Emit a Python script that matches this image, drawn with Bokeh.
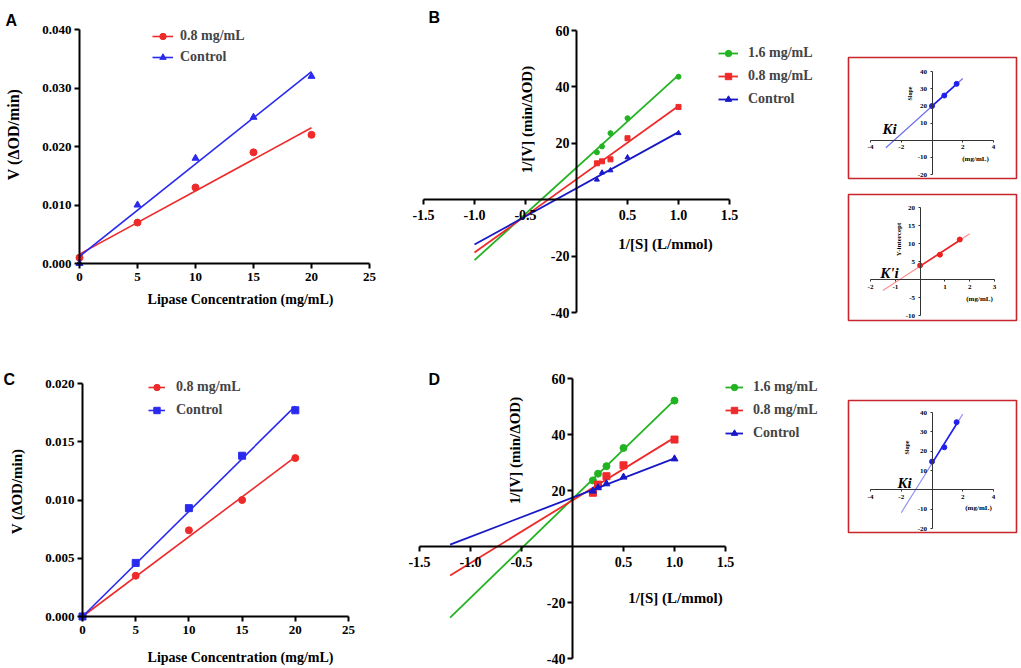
import numpy as np
from bokeh.plotting import figure
from bokeh.models import Range1d, FixedTicker, PrintfTickFormatter, Legend, LegendItem
from bokeh.layouts import row, column
from bokeh.embed import file_html
from bokeh.resources import INLINE

# ---------------- data ----------------
# Panel A : V vs lipase concentration
a_conc = [0, 5, 10, 15, 20]
a_inhib = [0.001, 0.007, 0.013, 0.019, 0.022]
a_control = [0.000, 0.010, 0.018, 0.025, 0.032]
a_xticks = [0, 5, 10, 15, 20, 25]
a_yticks = [0.0, 0.01, 0.02, 0.03, 0.04]

# Panel B : Lineweaver-Burk
b_inv_s = [0.2, 0.25, 0.333, 0.5, 1.0]
b_16 = [16.8, 18.9, 23.6, 28.9, 43.6]
b_08 = [12.9, 13.6, 14.3, 21.8, 32.9]
b_ctrl = [7.1, 9.6, 10.4, 15.0, 23.6]
lb_xticks = [-1.5, -1.0, -0.5, 0.5, 1.0, 1.5]
lb_yticks = [-40, -20, 20, 40, 60]

# Insets of B
bi_conc = [0, 0.8, 1.6]
bi_slope = [19.9, 26.0, 32.8]
bi_intercept = [3.9, 6.9, 11.1]
ins_xticks = [-4, -2, 2, 4]
ins_yticks = [-20, -10, 10, 20, 30, 40]
ins2_xticks = [-2, -1, 1, 2, 3]
ins2_yticks = [-10, -5, 5, 10, 15, 20]

# Panel C
c_conc = [0, 5, 10, 15, 20]
c_inhib = [0.0, 0.0035, 0.0074, 0.0100, 0.0136]
c_control = [0.0, 0.0046, 0.0093, 0.0138, 0.0177]
c_yticks = [0.0, 0.005, 0.010, 0.015, 0.020]

# Panel D
d_inv_s = [0.2, 0.25, 0.333, 0.5, 1.0]
d_16 = [23.6, 26.0, 28.7, 35.2, 52.1]
d_08 = [19.2, 22.1, 25.1, 29.0, 38.2]
d_ctrl = [19.8, 21.0, 22.4, 24.8, 31.3]
di_conc = [0, 0.8, 1.6]
di_slope = [14.6, 22.0, 35.0]

# ---------------- styles ----------------
RED = "#ef2a2a"
BLUE = "#2a2aef"
GREEN = "#22b322"
NAVY = "#1818c8"
SERIF = "Liberation Serif"
SANS = "Liberation Sans"


def make_fig(canvas, frame, xcal, ycal, outline=None):
    cx, cy, cw, ch = canvas
    fx0, fy0, fx1, fy1 = frame
    (xp0, xv0), (xp1, xv1) = xcal
    (yp0, yv0), (yp1, yv1) = ycal
    kx = (xv1 - xv0) / (xp1 - xp0)
    ky = (yv1 - yv0) / (yp1 - yp0)

    def X(px):
        return xv0 + (px - xp0) * kx

    def Y(py):
        return yv0 + (py - yp0) * ky

    p = figure(width=cw, height=ch,
               x_range=Range1d(X(fx0), X(fx1)), y_range=Range1d(Y(fy1), Y(fy0)),
               output_backend="svg", toolbar_location=None,
               min_border_left=fx0 - cx, min_border_right=cx + cw - fx1,
               min_border_top=fy0 - cy, min_border_bottom=cy + ch - fy1,
               background_fill_color="white", border_fill_color="white")
    p.title.visible = False
    p.xgrid.visible = False
    p.ygrid.visible = False
    if outline:
        p.outline_line_color = outline
        p.outline_line_width = 1.6
    else:
        p.outline_line_color = None
    return p, X, Y


def setup_axes(p, xb, yb, xt, yt, xfmt, yfmt, fs, lw, tick, xstand, ystand, color="black"):
    xa, ya = p.xaxis[0], p.yaxis[0]
    for ax in (xa, ya):
        ax.fixed_location = 0
        ax.axis_line_width = lw
        ax.axis_line_color = color
        ax.major_tick_line_width = lw
        ax.major_tick_line_color = color
        ax.major_tick_out = tick
        ax.major_tick_in = 0
        ax.minor_tick_out = 0
        ax.minor_tick_in = 0
        ax.major_label_text_font = SERIF
        ax.major_label_text_font_style = "bold"
        ax.major_label_text_font_size = fs
        ax.major_label_text_color = "black"
    xa.bounds = xb
    ya.bounds = yb
    xa.ticker = FixedTicker(ticks=xt, minor_ticks=[])
    ya.ticker = FixedTicker(ticks=yt, minor_ticks=[])
    xa.formatter = PrintfTickFormatter(format=xfmt)
    ya.formatter = PrintfTickFormatter(format=yfmt)
    xa.major_label_standoff = xstand
    ya.major_label_standoff = ystand


def label(p, X, Y, px, py, txt, size, font=SERIF, style="bold", angle=0.0,
          align="center", baseline="middle", color="black"):
    p.text(x=[X(px)], y=[Y(py)], text=[txt], angle=angle,
           text_font={"value": font}, text_font_style=style, text_font_size=size,
           text_align=align, text_baseline=baseline, text_color=color)


def add_legend(p, items, loc, glyph_width, standoff, spacing):
    leg = Legend(items=[LegendItem(label=t, renderers=r) for t, r in items],
                 location=loc, orientation="vertical", padding=0, margin=0, spacing=spacing,
                 glyph_width=glyph_width, glyph_height=16, label_height=16, label_standoff=standoff,
                 label_text_font=SERIF, label_text_font_style="bold", label_text_font_size="14px",
                 background_fill_alpha=0, border_line_color=None)
    p.add_layout(leg)


def linfit(x, y):
    k, b = np.polyfit(np.asarray(x, float), np.asarray(y, float), 1)
    return k, b


def line_pts(k, b, x0, x1):
    return [x0, x1], [k * x0 + b, k * x1 + b]


# ---------------- Panel A ----------------
pA, XA, YA = make_fig((0, 0, 400, 334), (0, 0, 400, 334), ((79, 0), (369, 25)), ((263, 0), (29, 0.04)))
setup_axes(pA, (0, 25), (0, 0.04), a_xticks, a_yticks, "%d", "%.3f", "13px", 2, 5, 4, 3)
k, b = linfit(a_conc, a_inhib)
lx, ly = line_pts(k, b, 0, 20)
la1 = pA.line(lx, ly, line_color=RED, line_width=1.6)
sa1 = pA.scatter(a_conc, a_inhib, marker="circle", size=7, fill_color=RED, line_color=RED)
k, b = linfit(a_conc, a_control)
lx, ly = line_pts(k, b, 0, 20)
la2 = pA.line(lx, ly, line_color=BLUE, line_width=1.6)
sa2 = pA.scatter(a_conc, a_control, marker="triangle", size=7, fill_color=BLUE, line_color=BLUE)
add_legend(pA, [("0.8 mg/mL", [la1, sa1]), ("Control", [la2, sa2])], (152, 269), 21, 7, 5)
label(pA, XA, YA, 5, 20, "A", "16px", font=SANS, align="left", baseline="alphabetic")
label(pA, XA, YA, 13, 134, "V (ΔOD/min)", "16px", angle=np.pi / 2)
label(pA, XA, YA, 240, 299, "Lipase Concentration (mg/mL)", "14px")

# ---------------- Panel B ----------------
pB, XB, YB = make_fig((400, 0, 440, 334), (400, 0, 840, 334), ((423, -1.5), (729, 1.5)), ((312, -40), (30, 60)))
setup_axes(pB, (-1.5, 1.5), (-40, 60), lb_xticks, lb_yticks, "%.1f", "%d", "14px", 2, 5, 5, 2)
rb = []
for ys, col, mk in ((b_16, GREEN, "circle"), (b_08, RED, "square"), (b_ctrl, NAVY, "triangle")):
    k, b = linfit(b_inv_s, ys)
    lx, ly = line_pts(k, b, -1.0, 1.0)
    l = pB.line(lx, ly, line_color=col, line_width=1.8)
    s = pB.scatter(b_inv_s, ys, marker=mk, size=5, fill_color=col, line_color=col)
    rb.append([l, s])
add_legend(pB, [("1.6 mg/mL", rb[0]), ("0.8 mg/mL", rb[1]), ("Control", rb[2])], (318, 227), 20, 10, 7)
label(pB, XB, YB, 428, 17, "B", "16px", font=SANS, align="left", baseline="alphabetic")
label(pB, XB, YB, 526, 119, "1/[V] (min/ΔOD)", "15px", angle=np.pi / 2)
label(pB, XB, YB, 665, 243, "1/[S] (L/mmol)", "15px")

# ---------------- Panel C ----------------
pC, XC, YC = make_fig((0, 334, 400, 334), (0, 334, 400, 668), ((82, 0), (348, 25)), ((616, 0), (383, 0.02)))
setup_axes(pC, (0, 25), (0, 0.02), a_xticks, c_yticks, "%d", "%.3f", "13px", 2, 5, 4, 3)
rc = []
for ys, col, mk in ((c_inhib, RED, "circle"), (c_control, BLUE, "square")):
    xs = np.asarray(c_conc, float)
    k = float(np.dot(xs, ys) / np.dot(xs, xs))
    lx, ly = line_pts(k, 0.0, 0, 20)
    l = pC.line(lx, ly, line_color=col, line_width=1.6)
    s = pC.scatter(c_conc, ys, marker=mk, size=7, fill_color=col, line_color=col)
    rc.append([l, s])
add_legend(pC, [("0.8 mg/mL", rc[0]), ("Control", rc[1])], (148, 250), 17, 11, 7)
label(pC, XC, YC, 3, 379, "C", "16px", font=SANS, align="left", baseline="alphabetic")
label(pC, XC, YC, 16, 491, "V (ΔOD/min)", "15px", angle=np.pi / 2)
label(pC, XC, YC, 240, 657, "Lipase Concentration (mg/mL)", "14px")

# ---------------- Panel D ----------------
pD, XD, YD = make_fig((400, 334, 440, 334), (400, 334, 840, 668), ((419, -1.5), (725, 1.5)), ((658, -40), (378, 60)))
setup_axes(pD, (-1.5, 1.5), (-40, 60), lb_xticks, lb_yticks, "%.1f", "%d", "14px", 2, 5, 5, 2)
rd = []
for ys, col, mk in ((d_16, GREEN, "circle"), (d_08, RED, "square"), (d_ctrl, NAVY, "triangle")):
    k, b = linfit(d_inv_s, ys)
    lx, ly = line_pts(k, b, -1.2, 1.0)
    l = pD.line(lx, ly, line_color=col, line_width=1.8)
    s = pD.scatter(d_inv_s, ys, marker=mk, size=7, fill_color=col, line_color=col)
    rd.append([l, s])
add_legend(pD, [("1.6 mg/mL", rd[0]), ("0.8 mg/mL", rd[1]), ("Control", rd[2])], (325, 227), 18, 10, 7)
label(pD, XD, YD, 428, 379, "D", "16px", font=SANS, align="left", baseline="alphabetic")
label(pD, XD, YD, 514, 450, "1/[V] (min/ΔOD)", "15px", angle=np.pi / 2)
label(pD, XD, YD, 675, 597, "1/[S] (L/mmol)", "15px")


# ---------------- Insets ----------------
def inset(canvas, frame, xcal, ycal, xb, yb, xt, yt, xs, ys, x0, x1, dark, light, ki, ki_pos,
          ylab, ylab_pos, ylab_size, unit_pos):
    p, X, Y = make_fig(canvas, frame, xcal, ycal, outline="#c8262c")
    setup_axes(p, xb, yb, xt, yt, "%d", "%d", "7px", 1, 2, 3, 3, color="#333333")
    k, b = linfit(xs, ys)
    lx, ly = line_pts(k, b, x0, x1)
    p.line(lx, ly, line_color=light, line_width=1.1)
    lx, ly = line_pts(k, b, min(xs), max(xs))
    p.line(lx, ly, line_color=dark, line_width=1.6)
    p.scatter(xs, ys, marker="circle", size=5, fill_color=dark, line_color=dark)
    label(p, X, Y, ki_pos[0], ki_pos[1], ki, "15px", style="bold italic")
    label(p, X, Y, ylab_pos[0], ylab_pos[1], ylab, ylab_size, angle=np.pi / 2)
    label(p, X, Y, unit_pos[0], unit_pos[1], "(mg/mL)", "7px")
    return p


pI1 = inset((840, 0, 181, 186), (848, 57, 1016, 178), ((870, -4), (993, 4)), ((174, -20), (71, 40)),
            (-4, 4), (-20, 40), ins_xticks, ins_yticks, bi_conc, bi_slope, -3.0, 2.0,
            "#2020ee", "#6a6af2", "Ki", (889, 128), "Slope", (909, 93), "6px", (975, 158))
pI2 = inset((840, 186, 181, 148), (848, 194, 1016, 320), ((870, -2), (994, 3)), ((315, -10), (207, 20)),
            (-2, 3), (-10, 20), ins2_xticks, ins2_yticks, bi_conc, bi_intercept, -1.5, 2.0,
            "#ee2020", "#ff8c8c", "K'i", (889, 272), "Y-intercept", (898, 239), "7px", (979, 298))
pID = inset((840, 334, 181, 334), (848, 400, 1016, 532), ((870, -4), (993, 4)), ((528, -20), (412, 40)),
            (-4, 4), (-20, 40), ins_xticks, ins_yticks, di_conc, di_slope, -2.0, 2.0,
            "#2020ee", "#8c8cf5", "Ki", (904, 482), "Slope", (906, 447), "6px", (978, 507))

layout = row(column(pA, pC), column(pB, pD), column(pI1, pI2, pID))

open("out.html", "w").write(file_html(layout, INLINE))
